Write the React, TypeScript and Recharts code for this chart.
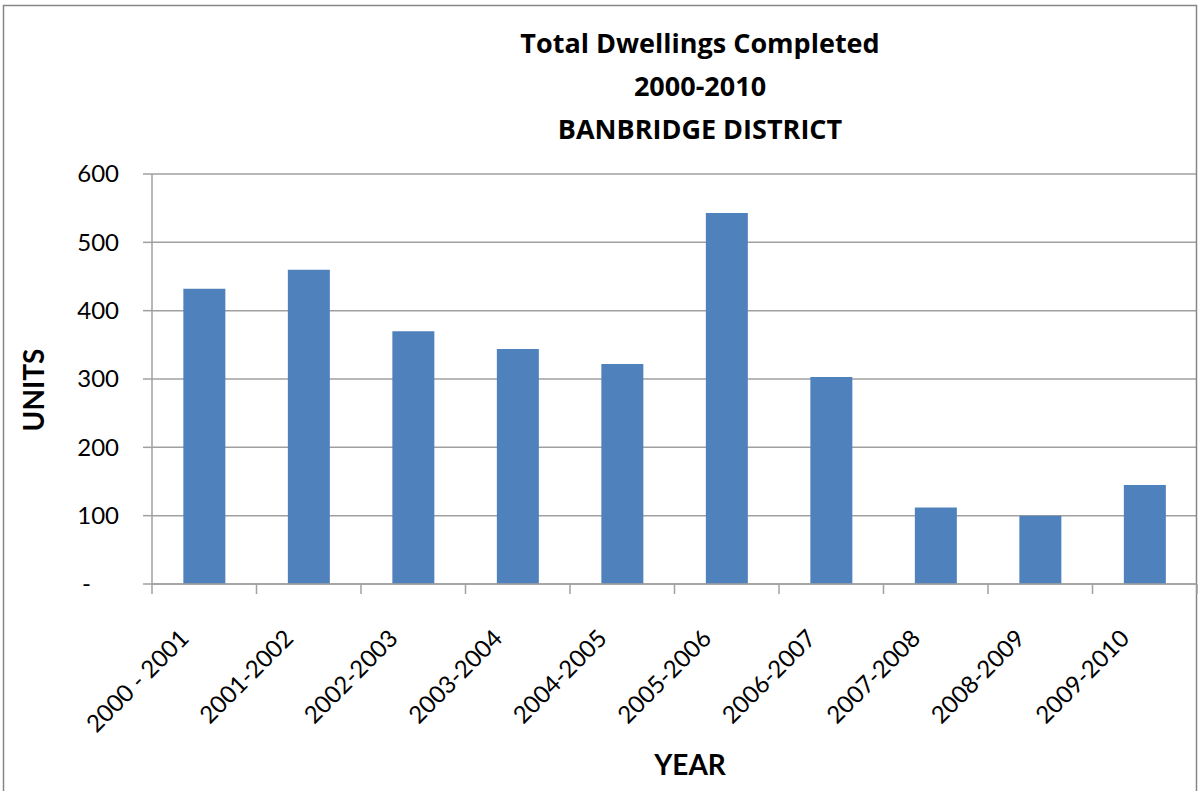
import { Bar, BarChart, CartesianGrid, Customized, XAxis, YAxis } from "recharts";

const categories = [
	"2000 - 2001",
	"2001-2002",
	"2002-2003",
	"2003-2004",
	"2004-2005",
	"2005-2006",
	"2006-2007",
	"2007-2008",
	"2008-2009",
	"2009-2010",
];
const dwellings = [432, 460, 370, 344, 322, 543, 303, 112, 100, 145];
const yTicks = [0, 100, 200, 300, 400, 500, 600];
const titleLines = ["Total Dwellings Completed", "2000-2010", "BANBRIDGE DISTRICT"];
const xTitle = "YEAR";
const yTitle = "UNITS";

const data = categories.map((year, i) => ({ year, units: dwellings[i] }));

const FONT = "Lato, 'Open Sans', sans-serif";
const TITLE_FONT = "'Open Sans', Lato, sans-serif";
const GRAY = "#a0a0a0";

function YTick(props: any) {
	const { x, y, payload } = props;
	const isZero = payload.value === 0;
	return (
		<text
			x={isZero ? x - 28 : x}
			y={y}
			dy="0.35em"
			textAnchor="end"
			fontFamily={FONT}
			fontSize={24}
			fill="#000"
		>
			{isZero ? "-" : payload.value}
		</text>
	);
}

function XTick(props: any) {
	const { x, y, payload, index } = props;
	const half = payload.offset || 52;
	const tx = x - 14;
	const ty = y + 56;
	return (
		<g>
			<line x1={x - half} x2={x - half} y1={y} y2={y + 10} stroke={GRAY} strokeWidth={1.5} />
			{index === categories.length - 1 && (
				<line x1={x + half} x2={x + half} y1={y} y2={y + 10} stroke={GRAY} strokeWidth={1.5} />
			)}
			<text
				x={tx}
				y={ty}
				transform={`rotate(-45, ${tx}, ${ty})`}
				textAnchor="end"
				fontFamily={FONT}
				fontSize={24}
				fill="#000"
			>
				{payload.value}
			</text>
		</g>
	);
}

function Titles() {
	return (
		<g fontWeight="bold" fill="#000">
			<rect x={3.5} y={5.5} width={1193} height={790} fill="none" stroke="#868686" strokeWidth={1.5} />
			{titleLines.map((line, i) => (
				<text key={line} x={700} y={53 + i * 43} textAnchor="middle" fontSize={27} fontFamily={TITLE_FONT}>
					{line}
				</text>
			))}
			<text x={690} y={775} textAnchor="middle" fontSize={28} fontFamily={FONT}>
				{xTitle}
			</text>
			<text
				x={44}
				y={390}
				textAnchor="middle"
				fontSize={28}
				fontFamily={FONT}
				transform="rotate(-90, 44, 390)"
			>
				{yTitle}
			</text>
		</g>
	);
}

export default function App() {
	return (
		<div style={{ position: "absolute", left: 0, top: 0, background: "#fff" }}>
			<BarChart
				width={1198}
				height={791}
				data={data}
				margin={{ top: 174, right: 1, bottom: 0, left: 0 }}
				barCategoryGap="30%"
			>
				<CartesianGrid vertical={false} stroke={GRAY} strokeWidth={1.5} />
				<XAxis
					dataKey="year"
					height={207}
					interval={0}
					tickSize={0}
					tickMargin={0}
					tickLine={false}
					axisLine={{ stroke: GRAY, strokeWidth: 1.5 }}
					tick={<XTick />}
				/>
				<YAxis
					width={152}
					domain={[0, 600]}
					ticks={yTicks}
					interval={0}
					tickSize={9}
					tickMargin={24}
					tickLine={{ stroke: GRAY, strokeWidth: 1.5 }}
					axisLine={{ stroke: GRAY, strokeWidth: 1.5 }}
					tick={<YTick />}
				/>
				<Bar dataKey="units" fill="#4f81bd" isAnimationActive={false} />
				<Customized component={Titles} />
			</BarChart>
		</div>
	);
}
